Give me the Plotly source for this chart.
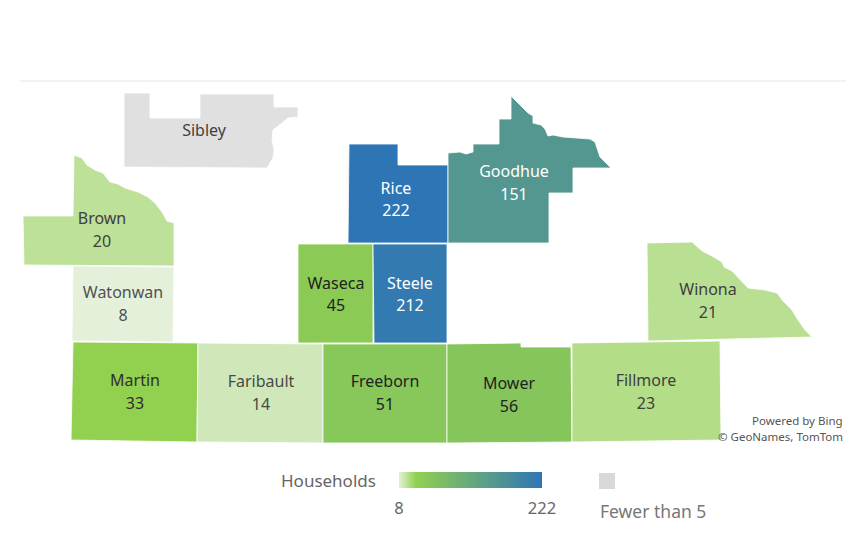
import plotly.graph_objects as go
from plotly.colors import sample_colorscale

FONT = "Noto Sans"
W, H = 849, 540

# ---- data ----
counties = ["Sibley", "Brown", "Watonwan", "Martin", "Faribault", "Freeborn", "Mower",
            "Fillmore", "Winona", "Waseca", "Steele", "Rice", "Goodhue"]
households = [None, 20, 8, 33, 14, 51, 56, 23, 21, 45, 212, 222, 151]
label_x = [204, 102, 123, 135, 261, 385, 509, 646, 708, 336, 410, 396, 514]
name_y = [132, 220, 294, 382, 383, 383, 385, 382, 291, 285, 285, 190, 173]
value_y = [None, 243, 317, 405, 406, 406, 408, 405, 314, 307, 307, 212, 196]
label_colors = ["#404040", "#404040", "#505050", "#2f2f2f", "#484848", "#222222", "#222222",
                "#404040", "#404040", "#222222", "#ffffff", "#ffffff", "#ffffff"]

# county outlines (map units)
sibley = [(124,93),(150,93),(150,118),(200,118),(200,94),(274,94),(274,107),(298,107),(298,117),
          (288,118),(282,123),(273,130),(272,140),(274,150),(273,158),(267,168),(124,167)]
brown = [(74,155),(82,158),(87,165),(95,170),(103,173),(107,178),(110,182),(118,184),(125,188),
         (138,192),(148,197),(155,203),(162,212),(167,221),(174,223),(174,266),(24,265),(23,216),(73,216)]
watonwan = [(73,266),(174,267),(173,342),(72,341)]
martin = [(73,342),(198,343),(197,442),(71,440)]
faribault = [(198,343),(323,344),(323,443),(197,442)]
freeborn = [(323,344),(447,344),(447,443),(323,443)]
mower = [(447,344),(521,343),(521,347),(571,347),(572,442),(447,443)]
fillmore = [(572,343),(720,341),(721,440),(572,442)]
winona = [(647,243),(692,242),(702,251),(712,256),(722,262),(724,267),(732,271),(740,280),
          (748,288),(765,290),(777,293),(783,301),(792,310),(798,320),(805,330),(812,337),(648,341)]
waseca = [(298,244),(373,244),(373,343),(298,343)]
steele = [(373,244),(447,244),(447,343),(374,343)]
rice = [(349,144),(398,144),(398,165),(448,165),(448,243),(348,243)]
goodhue = [(448,153),(460,152),(466,154),(473,152),(473,144),(499,144),(499,119),(511,119),(511,96),
           (520,105),(528,113),(533,116),(533,123),(541,125),(545,129),(548,136),(553,135),(563,137),
           (575,138),(590,139),(595,142),(598,150),(600,157),(611,168),(573,168),(573,193),(549,193),
           (549,243),(448,243)]
outlines = [sibley, brown, watonwan, martin, faribault, freeborn, mower, fillmore, winona,
            waseca, steele, rice, goodhue]

value_min, value_max = 8, 222
no_data_color = "#E0E0E0"
colorscale = [[0, "#E4F0DA"], [(33 - 8) / (222 - 8), "#92D050"], [1, "#2E75B6"]]

# ---- figure ----
fig = go.Figure()

for name, value, poly in zip(counties, households, outlines):
    color = no_data_color if value is None else sample_colorscale(
        colorscale, (value - value_min) / (value_max - value_min))[0]
    fig.add_trace(go.Scatter(
        x=[p[0] for p in poly] + [poly[0][0]],
        y=[p[1] for p in poly] + [poly[0][1]],
        mode="lines", fill="toself", fillcolor=color,
        line=dict(color="rgba(255,255,255,0.8)", width=1),
        name=name, hoverinfo="name", showlegend=False))

# county names + colour bar
fig.add_trace(go.Scatter(
    x=label_x, y=name_y, mode="markers+text", text=counties, textposition="middle center",
    textfont=dict(family=FONT, size=16, color=label_colors),
    marker=dict(size=1, opacity=0, color=[v if v is not None else value_min for v in households],
                cmin=value_min, cmax=value_max, colorscale=colorscale,
                colorbar=dict(orientation="h", lenmode="pixels", len=143, thickness=16,
                              thicknessmode="pixels", x=470.5 / W, xanchor="center",
                              y=1 - 472 / H, yanchor="top", xpad=0, ypad=0, outlinewidth=0,
                              tickmode="array", tickvals=[value_min, value_max],
                              ticks="outside", ticklen=7, tickcolor="rgba(0,0,0,0)",
                              tickfont=dict(family=FONT, size=16.5, color="#666666"))),
    hoverinfo="skip", showlegend=False))

# county values
fig.add_trace(go.Scatter(
    x=label_x, y=value_y, mode="text",
    text=["" if v is None else str(v) for v in households], textposition="middle center",
    textfont=dict(family=FONT, size=16, color=label_colors),
    hoverinfo="skip", showlegend=False))

# "Fewer than 5" swatch
fig.add_trace(go.Scatter(
    x=[607], y=[481], mode="markers",
    marker=dict(symbol="square", size=16, color="#D9D9D9", line=dict(width=0)),
    hoverinfo="skip", showlegend=False))

def note(text, x, y, size, color, anchor):
    fig.add_annotation(x=x, y=y, text=text, showarrow=False, xanchor=anchor, yanchor="middle",
                       font=dict(family=FONT, size=size, color=color), xref="x", yref="y",
                       borderpad=0, borderwidth=0)

note("Households", 281, 480, 17, "#666666", "left")
note("Fewer than 5", 600, 511, 17.5, "#777777", "left")
note("Powered by Bing", 843, 420, 11.5, "#555555", "right")
note("© GeoNames, TomTom", 843, 436, 11.5, "#555555", "right")

fig.add_shape(type="line", x0=20, x1=846, y0=81, y1=81, line=dict(color="#E6E6E6", width=1))

fig.update_layout(
    width=W, height=H, margin=dict(l=0, r=0, t=0, b=0),
    paper_bgcolor="white", plot_bgcolor="white", showlegend=False,
    xaxis=dict(range=[0, W], visible=False, fixedrange=True),
    yaxis=dict(range=[H, 0], visible=False, fixedrange=True),
)
fig.write_html("out.html", config={"displayModeBar": False},
               post_script="document.body.style.margin='0';document.body.style.overflow='hidden';")
